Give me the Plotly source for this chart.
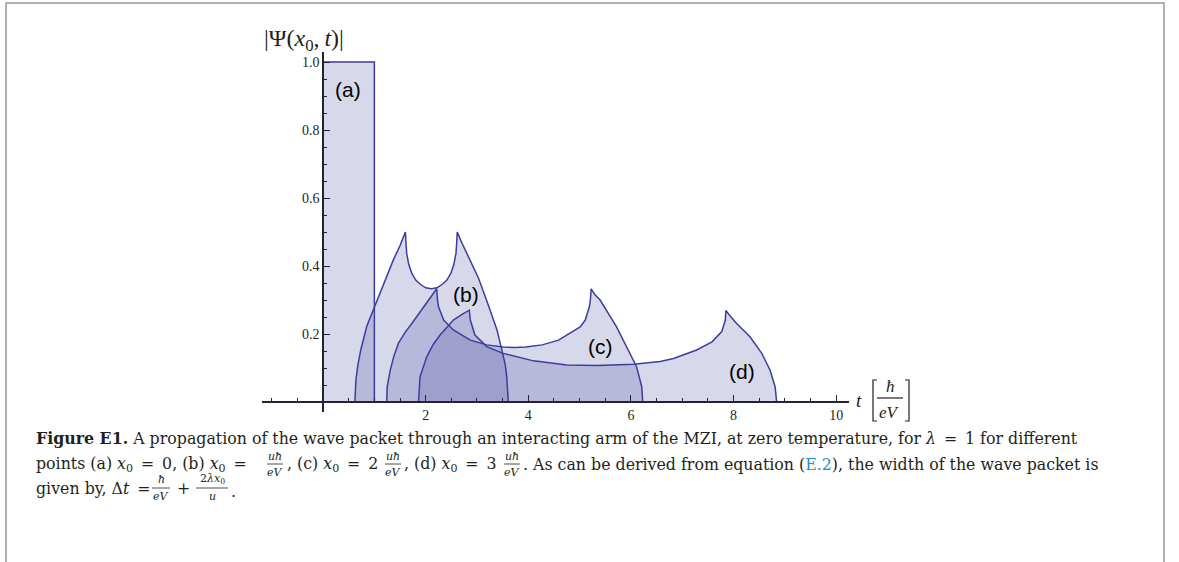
import plotly.graph_objects as go

# ---------------- data ----------------
t_a = [0.0, 0.0, 1.0, 1.0]
psi_a = [0.0, 1.0, 1.0, 0.0]

t_b = [0.62, 0.64, 0.68, 0.735, 0.85, 1.0, 1.18, 1.37, 1.5, 1.605,
       1.615, 1.63, 1.67, 1.73, 1.81, 1.89, 2.0, 2.11, 2.22, 2.33, 2.41, 2.49, 2.55, 2.59, 2.605, 2.615,
       2.7, 2.8, 3.03, 3.22, 3.39, 3.5, 3.55, 3.58, 3.6, 3.61]
psi_b = [0.0, 0.065, 0.11, 0.153, 0.222, 0.28, 0.349, 0.418, 0.46, 0.5,
         0.47, 0.437, 0.405, 0.378, 0.358, 0.347, 0.336, 0.333, 0.336, 0.347, 0.358, 0.378, 0.405, 0.437, 0.47, 0.5,
         0.47, 0.437, 0.364, 0.285, 0.212, 0.143, 0.11, 0.074, 0.035, 0.0]

t_c = [1.24, 1.25, 1.31, 1.38, 1.47, 1.6, 1.73, 1.96, 2.1, 2.215,
       2.23, 2.25, 2.35, 2.54, 2.87, 3.19, 3.51, 3.73, 3.95, 4.27, 4.59, 4.92, 5.01, 5.11, 5.19, 5.21, 5.225,
       5.3, 5.4, 5.72, 5.95, 6.11, 6.21, 6.23]
psi_c = [0.0, 0.045, 0.094, 0.135, 0.173, 0.205, 0.231, 0.28, 0.307, 0.333,
         0.30, 0.28, 0.241, 0.212, 0.182, 0.168, 0.162, 0.160, 0.162, 0.168, 0.182, 0.212, 0.221, 0.241, 0.28, 0.30, 0.333,
         0.315, 0.30, 0.221, 0.153, 0.104, 0.045, 0.0]

t_d = [1.86, 1.87, 1.89, 2.02, 2.15, 2.28, 2.54, 2.7, 2.85,
       2.86, 2.87, 2.96, 3.19, 3.51, 4.1, 4.75, 5.35, 6.05, 6.57, 6.83, 7.28, 7.58, 7.77, 7.84, 7.85,
       7.95, 8.06, 8.32, 8.55, 8.71, 8.81, 8.84]
psi_d = [0.0, 0.04, 0.074, 0.133, 0.17, 0.197, 0.241, 0.257, 0.27,
         0.255, 0.241, 0.197, 0.163, 0.143, 0.121, 0.109, 0.107, 0.111, 0.119, 0.128, 0.153, 0.177, 0.207, 0.241, 0.269,
         0.25, 0.231, 0.192, 0.143, 0.094, 0.045, 0.0]

curve_labels = ["(a)", "(b)", "(c)", "(d)"]
label_t = [0.49, 2.78, 5.40, 8.16]
label_psi = [0.92, 0.315, 0.163, 0.089]

x_major = [2, 4, 6, 8, 10]
x_minor = [-1.0, -0.5, 0.0, 0.5, 1.0, 1.5, 2.5, 3.0, 3.5, 4.5, 5.0, 5.5, 6.5, 7.0, 7.5, 8.5, 9.0, 9.5]
y_major = [0.2, 0.4, 0.6, 0.8, 1.0]
y_major_text = ["0.2", "0.4", "0.6", "0.8", "1.0"]
y_minor = [0.05, 0.1, 0.15, 0.25, 0.3, 0.35, 0.45, 0.5, 0.55, 0.65, 0.7, 0.75, 0.85, 0.9, 0.95]

# ---------------- layout geometry ----------------
W, H = 1179, 562
L, R, T, B = 262, 330, 52, 150
PW, PH = W - L - R, H - T - B
XR = [-1.19, 10.25]
YR = [-0.0294, 1.0294]


def px(x):
    return (x - L) / PW


def py(y):
    return (H - B - y) / PH


LINE = "rgb(61,61,158)"
FILL = "rgba(61,61,153,0.2)"
AX = "rgb(35,35,55)"
TXT = "rgb(35,31,32)"
SERIF = "Liberation Serif"
CAP = "DejaVu Serif"
CS = 15.8
ES = "\u2002"  # en space for math spacing

fig = go.Figure()
for tt, yy in [(t_a, psi_a), (t_b, psi_b), (t_c, psi_c), (t_d, psi_d)]:
    fig.add_trace(go.Scatter(x=tt, y=yy, mode="lines", fill="tozeroy",
                             fillcolor=FILL, line=dict(color=LINE, width=1.5),
                             hoverinfo="skip", showlegend=False))

ann = []
for lab, lx, ly in zip(curve_labels, label_t, label_psi):
    ann.append(dict(x=lx, y=ly, xref="x", yref="y", text=lab, showarrow=False,
                    font=dict(family="Liberation Sans", size=21, color="black")))


def txt(x, y, s, size=CS, anchor="left", family=CAP, color=TXT):
    ann.append(dict(x=px(x), y=py(y), xref="paper", yref="paper", text=s, showarrow=False,
                    xanchor=anchor, yanchor="middle", font=dict(family=family, size=size, color=color)))


shapes = []


def hline(x0, x1, y, w=1.0, color=TXT):
    shapes.append(dict(type="line", xref="paper", yref="paper", x0=px(x0), x1=px(x1),
                       y0=py(y), y1=py(y), line=dict(color=color, width=w)))


def frac(xc, ytop, ybot, ybar, num, den, halfw, size=11):
    txt(xc, ytop, num, size=size, anchor="center")
    txt(xc, ybot, den, size=size, anchor="center")
    hline(xc - halfw, xc + halfw, ybar, w=0.8)


# axis title
txt(304, 40, "|Ψ(<i>x</i><sub>0</sub>,\u2009<i>t</i>)|", size=24, anchor="center", family=SERIF)
# x-axis label t [ħ/eV]
txt(859, 400, "<i>t</i>", size=19, anchor="center", family=SERIF)
txt(890, 386, "<i>ħ</i>", size=17, anchor="center", family=SERIF)
txt(889, 412, "<i>eV</i>", size=17, anchor="center", family=SERIF)
hline(877, 903, 398, w=1.2, color=TXT)
shapes.append(dict(type="path", xref="paper", yref="paper",
                   path=f"M {px(877)},{py(380)} L {px(873)},{py(380)} L {px(873)},{py(421)} L {px(877)},{py(421)}",
                   line=dict(color=TXT, width=1.2)))
shapes.append(dict(type="path", xref="paper", yref="paper",
                   path=f"M {px(905)},{py(380)} L {px(909)},{py(380)} L {px(909)},{py(421)} L {px(905)},{py(421)}",
                   line=dict(color=TXT, width=1.2)))

# frame
shapes.append(dict(type="path", xref="paper", yref="paper",
                   path=f"M {px(6)},{py(570)} L {px(6)},{py(3)} L {px(1164)},{py(3)} L {px(1164)},{py(570)}",
                   line=dict(color="rgb(150,150,150)", width=1.5)))

# caption
txt(34, 438, "<b>Figure E1.</b> A propagation of the wave packet through an interacting arm of the MZI, "
             f"at zero temperature, for <i>λ</i>{ES}={ES}1 for different")
txt(34, 464, f"points (a) <i>x</i><sub>0</sub>{ES}={ES}0, (b) <i>x</i><sub>0</sub>{ES}=")
frac(275, 456, 472, 464, "<i>uħ</i>", "<i>eV</i>", 8)
txt(285, 464, f", (c) <i>x</i><sub>0</sub>{ES}={ES}2")
frac(393, 456, 472, 464, "<i>uħ</i>", "<i>eV</i>", 8)
txt(402, 464, f", (d) <i>x</i><sub>0</sub>{ES}={ES}3")
frac(512, 456, 472, 464, "<i>uħ</i>", "<i>eV</i>", 8)
txt(521, 464, ". As can be derived from equation (<span style='color:#1f8dc8'>E.2</span>), "
              "the width of the wave packet is")
txt(34, 489, f"given by, Δ<i>t</i>{ES}=")
frac(161, 479, 496, 488, "<i>ħ</i>", "<i>eV</i>", 9)
txt(183, 489, "+", anchor="center")
frac(212, 479, 496, 488, "2<i>λx</i><sub>0</sub>", "<i>u</i>", 16)
txt(229, 491, ".")

fig.update_layout(
    width=W, height=H, margin=dict(l=L, r=R, t=T, b=B),
    paper_bgcolor="white", plot_bgcolor="white",
    annotations=ann, shapes=shapes,
    xaxis=dict(range=XR, showgrid=False, zeroline=False, showline=True, linecolor=AX, linewidth=1.6,
               anchor="free", position=(0 - YR[0]) / (YR[1] - YR[0]),
               tickmode="array", tickvals=x_major, ticktext=[str(v) for v in x_major],
               ticks="inside", ticklen=6, tickwidth=1, tickcolor=AX,
               tickfont=dict(family=SERIF, size=14, color=TXT),
               minor=dict(tickmode="array", tickvals=x_minor, ticks="inside", ticklen=3.5,
                          tickwidth=1, tickcolor=AX)),
    yaxis=dict(range=YR, showgrid=False, zeroline=False, showline=True, linecolor=AX, linewidth=1.6,
               anchor="free", position=(0 - XR[0]) / (XR[1] - XR[0]),
               tickmode="array", tickvals=y_major, ticktext=y_major_text,
               ticks="inside", ticklen=6, tickwidth=1, tickcolor=AX,
               tickfont=dict(family=SERIF, size=14, color=TXT),
               minor=dict(tickmode="array", tickvals=y_minor, ticks="inside", ticklen=3.5,
                          tickwidth=1, tickcolor=AX)),
)

fig.write_html("out.html", config={"displayModeBar": False},
               post_script="document.body.style.margin='0px';document.body.style.padding='0px';")
